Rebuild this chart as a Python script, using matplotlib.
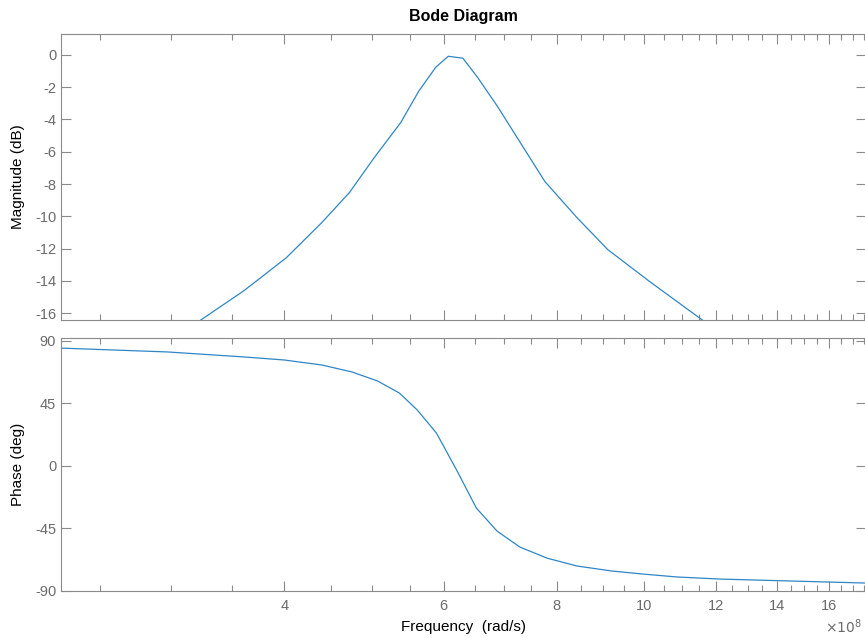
import matplotlib.pyplot as plt
from matplotlib.ticker import FixedLocator, FuncFormatter
import numpy as np

# values (frequency in rad/s)
mag_freq = [3.22e8, 3.61e8, 4.02e8, 4.40e8, 4.72e8, 5.03e8, 5.38e8, 5.63e8,
            5.88e8, 6.07e8, 6.30e8, 6.54e8, 6.88e8, 7.23e8, 7.76e8, 8.42e8,
            9.11e8, 1.014e9, 1.163e9]
mag_db = [-16.5, -14.61, -12.57, -10.39, -8.53, -6.35, -4.18, -2.25,
          -0.76, -0.08, -0.20, -1.39, -3.19, -5.11, -7.84, -10.08,
          -12.07, -14.06, -16.5]

ph_freq = [2.26e8, 2.97e8, 3.61e8, 4.00e8, 4.40e8, 4.75e8, 5.07e8, 5.36e8,
           5.61e8, 5.89e8, 6.20e8, 6.52e8, 6.87e8, 7.28e8, 7.80e8, 8.42e8,
           9.20e8, 9.96e8, 1.086e9, 1.211e9, 1.76e9]
ph_deg = [84.7, 81.9, 78.3, 76.1, 72.5, 67.5, 61.0, 52.3,
          40.1, 23.5, -3.1, -30.5, -47.0, -58.5, -66.5, -72.2,
          -75.8, -78.0, -80.1, -81.6, -84.5]

mag_ticks = [0, -2, -4, -6, -8, -10, -12, -14, -16]
ph_ticks = [-90, -45, 0, 45, 90]
x_major = [4e8, 6e8, 8e8, 10e8, 12e8, 14e8, 16e8]
x_minor = [v * 1e8 for v in np.arange(2.5, 18.0, 0.5)]

plt.rcParams['font.family'] = ['Liberation Sans', 'DejaVu Sans']

line_c = '#2f86c6'
axis_c = '#8a8a8a'
label_c = '#6b6b6b'

fig = plt.figure(figsize=(8.65, 6.38), dpi=100)
W, H = 865.0, 638.0
left = 61 / W
width = (866 - 61) / W
ax1 = fig.add_axes([left, 1 - 320 / H, width, (320 - 34) / H])
ax2 = fig.add_axes([left, 1 - 591 / H, width, (591 - 337.5) / H])

ax1.plot(mag_freq, mag_db, color=line_c, lw=0.9)
ax2.plot(ph_freq, ph_deg, color=line_c, lw=0.9)

for ax in (ax1, ax2):
    ax.set_xscale('log')
    ax.set_xlim(2.266e8, 1.757e9)
    ax.xaxis.set_major_locator(FixedLocator(x_major))
    ax.xaxis.set_minor_locator(FixedLocator(x_minor))
    ax.tick_params(which='both', direction='in', top=True, right=True,
                   colors=axis_c, labelcolor=label_c, labelsize=10.5, width=0.8)
    ax.tick_params(which='major', length=7)
    ax.tick_params(which='minor', length=4)
    for s in ax.spines.values():
        s.set_color(axis_c)
        s.set_linewidth(0.8)

ax1.set_ylim(-16.43, 1.3)
ax1.set_yticks(mag_ticks)
ax1.set_yticklabels([str(t) for t in mag_ticks])
ax1.tick_params(axis='x', which='both', labelbottom=False)
ax1.set_ylabel('Magnitude (dB)', fontsize=11, color='black', labelpad=7)
ax1.set_title('Bode Diagram', fontsize=11.5, fontweight='bold', pad=9)

ax2.set_ylim(-90.2, 92.3)
ax2.set_yticks(ph_ticks)
ax2.set_yticklabels([str(t) for t in ph_ticks])
ax2.xaxis.set_major_formatter(FuncFormatter(lambda v, p: '%d' % round(v / 1e8)))
ax2.xaxis.set_minor_formatter(FuncFormatter(lambda v, p: ''))
ax2.tick_params(axis='x', which='major', pad=6)
ax2.set_ylabel('Phase (deg)', fontsize=11, color='black', labelpad=7)
ax2.set_xlabel('Frequency  (rad/s)', fontsize=11, color='black', labelpad=5)

fig.text(862 / W, 1 - 627 / H, r'$\times10^{8}$', fontsize=10, color=label_c,
         ha='right', va='center')

fig.savefig('out.png', dpi=100)
